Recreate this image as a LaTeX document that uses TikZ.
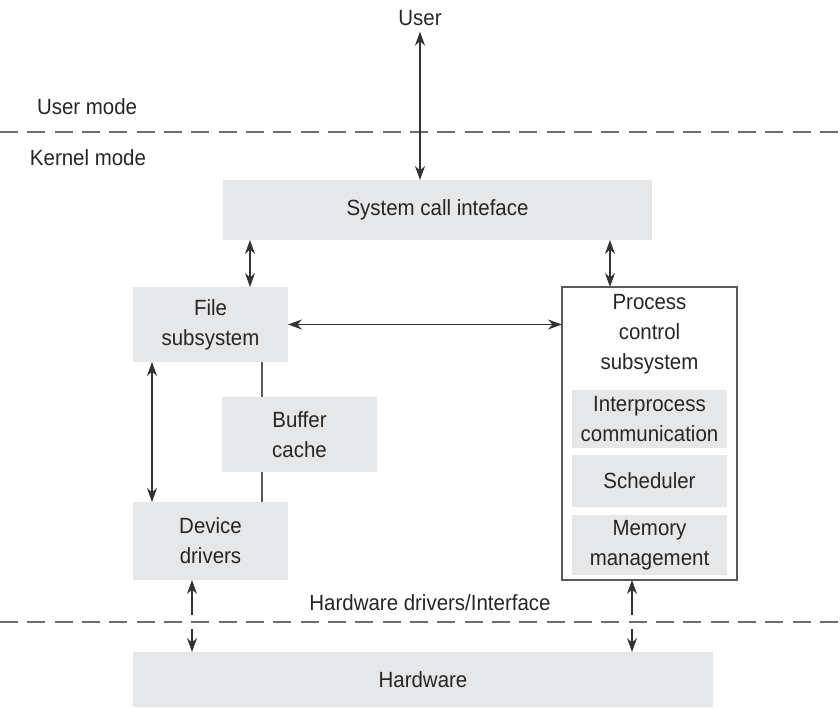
\documentclass[tikz,border=0pt]{standalone}
\usepackage{fontspec}
\setmainfont{Liberation Sans}[FakeStretch=0.93]
\usetikzlibrary{arrows.meta,calc}
\definecolor{boxgray}{HTML}{E6E7E8}
\definecolor{edgegray}{HTML}{5A5A5A}
\definecolor{dashgray}{HTML}{6E6E6E}
\begin{document}
\begin{tikzpicture}[x=0.75pt,y=-0.75pt,
  font=\fontsize{16.5}{22.5}\selectfont,
  every node/.style={inner sep=0pt, outer sep=0pt, text=black!85},
  graybox/.style={fill=boxgray, draw=none, align=center},
  frame/.style={draw=edgegray, line width=0.9pt, fill=white},
  link/.style={draw=black!80, line width=0.8pt},
  tip/.style={},
  biarrow/.style={link, {Stealth[length=10.5pt,width=7.5pt]}-{Stealth[length=10.5pt,width=7.5pt]}},
  uparrow/.style={link, {Stealth[length=10.5pt,width=7.5pt]}-},
  downarrow/.style={link, -{Stealth[length=10.5pt,width=7.5pt]}},
  boundary/.style={draw=dashgray, line width=0.8pt, dash pattern=on 13.5pt off 7pt},
  plainline/.style={draw=edgegray, line width=0.8pt}]
\useasboundingbox (0,0) rectangle (840,708);

% mode boundaries
\coordinate (umL) at (0,132);
\coordinate (umR) at (840,132);
\coordinate (hwL) at (0,622);
\coordinate (hwR) at (840,622);
\draw[boundary] (umL) -- (umR);
\draw[boundary] (hwL) -- (hwR);

% labels
\node (user) at (420,18) {User};
\node[anchor=west] (umode) at (37,107) {User mode};
\node[anchor=west] (kmode) at (30,158) {Kernel mode};
\node (hwif) at (430,603) {Hardware drivers/Interface};

% boxes
\node[graybox, minimum width=429*0.75pt, minimum height=60*0.75pt] (sci) at (437.5,210) {System call inteface};
\node[graybox, minimum width=155*0.75pt, minimum height=75*0.75pt] (fs) at (210.5,324.5) {File\\subsystem};
\node[graybox, minimum width=155*0.75pt, minimum height=75*0.75pt] (bc) at (299.5,434.5) {Buffer\\cache};
\node[graybox, minimum width=155*0.75pt, minimum height=78*0.75pt] (dd) at (210.5,541) {Device\\drivers};
\node[frame, minimum width=175*0.75pt, minimum height=293*0.75pt] (pcs) at (649.5,433.5) {};
\node[align=center, anchor=north] (pcstext) at ($(pcs.north)+(0,7)$) {Process\\control\\subsystem};
\node[graybox, minimum width=155*0.75pt, minimum height=58*0.75pt] (ipc) at (649.5,419) {Interprocess\\communication};
\node[graybox, minimum width=155*0.75pt, minimum height=52*0.75pt] (sch) at (649.5,481) {Scheduler};
\node[graybox, minimum width=155*0.75pt, minimum height=60*0.75pt] (mm) at (649.5,545) {Memory\\management};
\node[graybox, minimum width=580*0.75pt, minimum height=55*0.75pt] (hw) at (423,679.5) {Hardware};

% connectors
\draw[biarrow] (user.south) ++(0,6) coordinate (uarr) -- (sci.north -| uarr);
\coordinate (fsx) at ($(fs.north east)+(-38,0)$);
\draw[biarrow] (sci.south -| fsx) -- (fsx);
\coordinate (pcx) at ($(pcs.north west)+(48,0)$);
\draw[biarrow] (sci.south -| pcx) -- (pcx);
\draw[biarrow] (fs.east) -- (fs.east -| pcs.west);
\coordinate (fdx) at ($(fs.south west)+(19,0)$);
\draw[biarrow] (fdx) -- (dd.north -| fdx);
\coordinate (bcx) at ($(fs.south west)+(129,0)$);
\draw[plainline] (bcx) -- (bc.north -| bcx);
\draw[plainline] (bc.south -| bcx) -- (dd.north -| bcx);

% links across the hardware boundary
\coordinate (ddx) at ($(dd.south west)+(59,0)$);
\coordinate (ddgapA) at ($(hwL -| ddx)+(0,-7)$);
\coordinate (ddgapB) at ($(hwL -| ddx)+(0,7)$);
\draw[uparrow] (ddx) -- (ddgapA);
\draw[downarrow] (ddgapB) -- (hw.north -| ddx);
\coordinate (mmx) at ($(pcs.south west)+(70,0)$);
\coordinate (mmgapA) at ($(hwL -| mmx)+(0,-7)$);
\coordinate (mmgapB) at ($(hwL -| mmx)+(0,7)$);
\draw[uparrow] (mmx) -- (mmgapA);
\draw[downarrow] (mmgapB) -- (hw.north -| mmx);
\end{tikzpicture}
\end{document}
